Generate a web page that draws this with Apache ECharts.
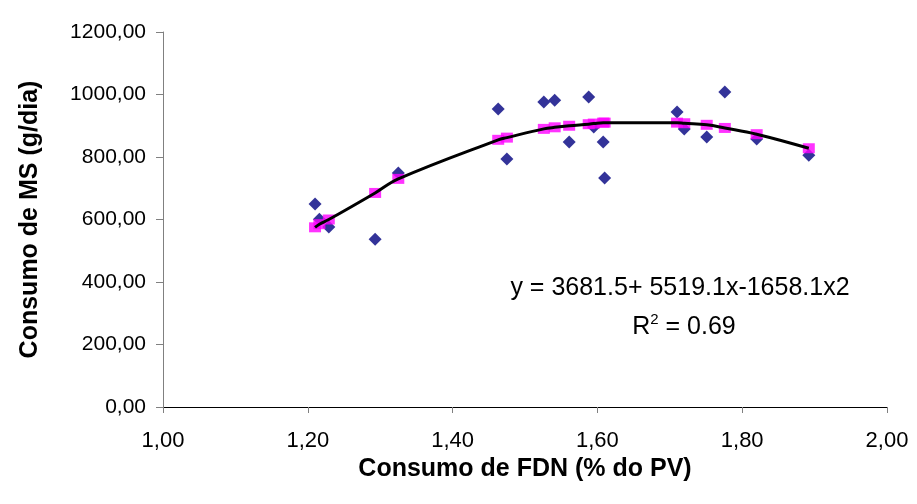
<!DOCTYPE html>
<html>
<head>
<meta charset="utf-8">
<script src="https://cdn.jsdelivr.net/npm/echarts@6/dist/echarts.min.js"></script>
<style>html,body{margin:0;padding:0;background:#fff}#c{width:917px;height:504px}</style>
</head>
<body>
<div id="c"></div>
<script>
// Observed (blue diamonds)
var obsX = [1.210, 1.216, 1.229, 1.293, 1.325, 1.463, 1.475, 1.526, 1.541, 1.561, 1.588, 1.595, 1.608, 1.610, 1.710, 1.720, 1.751, 1.776, 1.820, 1.892];
var obsY = [650, 601, 576, 537, 749, 954, 794, 976, 982, 848, 992, 896, 848, 733, 944, 890, 864, 1008, 858, 806];
// Predicted (pink squares)
var predX = [1.210, 1.216, 1.229, 1.293, 1.325, 1.463, 1.475, 1.526, 1.541, 1.561, 1.588, 1.595, 1.608, 1.610, 1.710, 1.720, 1.751, 1.776, 1.820, 1.892];
var predY = [575, 585, 600, 685, 730, 855, 862, 890, 895, 900, 905, 907, 910, 910, 910, 908, 903, 893, 873, 828];
var yTicks = [0, 200, 400, 600, 800, 1000, 1200];
var xTicks = [1.0, 1.2, 1.4, 1.6, 1.8, 2.0];

function pairs(xs, ys) { return xs.map(function (x, i) { return [x, ys[i]]; }); }
var fmt = function (v) { return v.toFixed(2).replace('.', ','); };
var font = 'Liberation Sans, Arial, sans-serif';

var chart = echarts.init(document.getElementById('c'), null, { renderer: 'canvas' });
chart.setOption({
  animation: false,
  backgroundColor: '#ffffff',
  grid: { left: 163, right: 30, top: 32, bottom: 97 },
  xAxis: {
    type: 'value', min: xTicks[0], max: xTicks[xTicks.length - 1], interval: 0.2,
    name: 'Consumo de FDN (% do PV)', nameLocation: 'middle', nameGap: 50,
    nameTextStyle: { fontFamily: font, fontSize: 25, fontWeight: 'bold', color: '#000' },
    axisLine: { lineStyle: { color: '#000', width: 1 } },
    axisTick: { inside: false, length: 6, lineStyle: { color: '#808080' } },
    axisLabel: { formatter: fmt, fontFamily: font, fontSize: 22, color: '#000', margin: 23 },
    splitLine: { show: false }
  },
  yAxis: {
    type: 'value', min: yTicks[0], max: yTicks[yTicks.length - 1], interval: 200,
    name: 'Consumo de MS (g/dia)', nameLocation: 'middle', nameGap: 120, nameRotate: 90,
    nameTextStyle: { fontFamily: font, fontSize: 25, fontWeight: 'bold', color: '#000' },
    axisLine: { show: true, lineStyle: { color: '#808080', width: 1 } },
    axisTick: { show: true, length: 7, lineStyle: { color: '#808080' } },
    axisLabel: { formatter: fmt, fontFamily: font, fontSize: 21, color: '#000', margin: 17 },
    splitLine: { show: false }
  },
  series: [
    {
      type: 'scatter', data: pairs(obsX, obsY), symbol: 'diamond', symbolSize: 13,
      itemStyle: { color: '#000080' }, z: 2
    },
    {
      type: 'scatter', data: pairs(predX, predY), symbol: 'rect', symbolSize: [12, 10],
      itemStyle: { color: '#FF00FF' }, z: 3
    },
    {
      type: 'line', data: pairs(predX, predY), smooth: 0.4, showSymbol: false, symbol: 'none',
      lineStyle: { color: '#000', width: 3 }, z: 4
    }
  ],
  graphic: [
    {
      type: 'text', x: 680, y: 288,
      style: { text: 'y = 3681.5+ 5519.1x-1658.1x2', font: '25px ' + font, fill: '#000', align: 'center', verticalAlign: 'middle' }
    },
    {
      type: 'text', x: 684, y: 326,
      style: {
        text: '{n|R}{s|2}{n| = 0.69}', align: 'center', verticalAlign: 'middle',
        rich: {
          n: { font: '25px ' + font, fill: '#000', verticalAlign: 'bottom' },
          s: { font: '15px ' + font, fill: '#000', verticalAlign: 'top', padding: [0, 0, 12, 0] }
        }
      }
    }
  ]
});
</script>
</body>
</html>
